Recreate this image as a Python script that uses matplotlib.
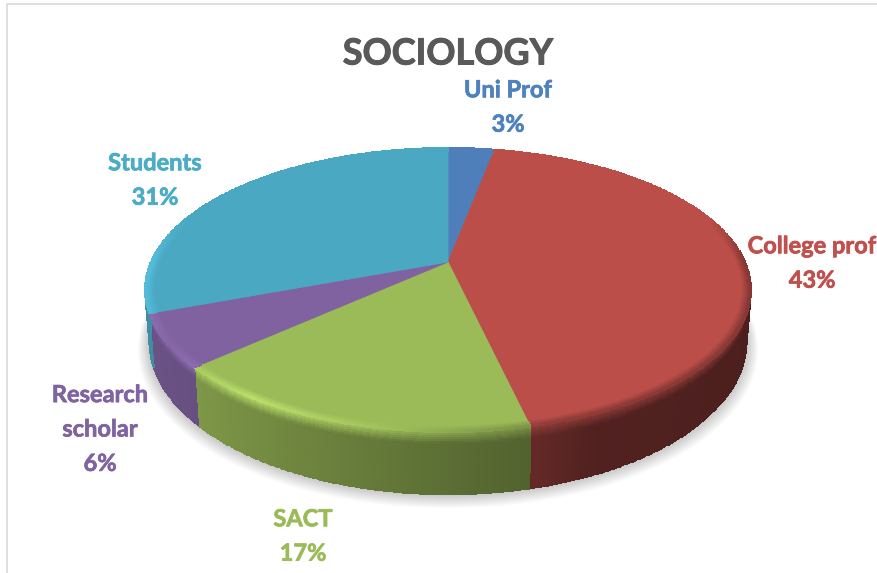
import numpy as np
import matplotlib
matplotlib.use("Agg")
import matplotlib.pyplot as plt
import matplotlib.patheffects as pe

plt.rcParams['font.family'] = ['Lato', 'DejaVu Sans']

categories = ["Uni Prof", "College prof", "SACT", "Research\nscholar", "Students"]
shares = [3.0, 43.4, 16.9, 6.0, 30.7]
colors = ["#4f7fba", "#bc4e4a", "#9bba58", "#8062a0", "#4ba8c3"]
label_colors = ["#4f81bd", "#c0504d", "#9bbb59", "#8064a2", "#4bacc6"]
label_pos = [(508, 107), (812, 263), (303, 536), (100, 429), (155, 180)]

CX, CY = 448, 262
A, B, K = 297.0, 136.5, 0.197
DEPTH = 50.0


def project(theta, r=1.0):
    # pie seen in perspective, theta is clockwise from the top
    u = r * np.sin(theta)
    v = r * np.cos(theta)
    w = 1 + K * v
    return CX + A * u / w, CY - B * v / w


def wall_point(theta, t):
    x, y = project(theta)
    w = 1 + K * np.cos(theta)
    return CX + (x - CX) * (1 - 0.015 * t), y + t * DEPTH / w


def wall_shade(u):
    return np.interp(u, [-1, -0.7, -0.3, 0.25, 0.4, 1], [0.85, 0.8, 0.68, 0.52, 0.43, 0.4])


def rim_shade(u):
    return np.interp(u, [-1, -0.85, -0.55, -0.2, 0.1, 0.3, 1], [1.13, 1.05, 1.2, 1.05, 0.85, 0.75, 0.7])


fig = plt.figure(figsize=(8.77, 5.73), dpi=100)
ax = fig.add_axes([0, 0, 1, 1])
ax.set_xlim(0, 877)
ax.set_ylim(573, 0)
ax.axis("off")

# chart frame, only left and top are in the crop
ax.plot([7, 7, 877], [573, 4, 4], color="#d9d9d9", lw=1.2)

edges = np.cumsum([0] + shares) / sum(shares) * 2 * np.pi

# soft shadow
ring = np.linspace(0, 2 * np.pi, 300)
bx, by = wall_point(ring, 1.0)
for i in range(14, 0, -1):
    sx = CX + (bx - CX) * (1 + 0.0028 * i)
    sy = 300 + (by - 300) * (1 + 0.0028 * i) + 0.45 * i
    ax.fill(sx, sy, color="black", alpha=0.016, lw=0)

band = np.linspace(0.972, 1.0, 10)
depths = np.linspace(0, 1, 31)

for start, end, col in zip(edges[:-1], edges[1:], colors):
    base = np.array(matplotlib.colors.to_rgb(col))
    thetas = np.linspace(start, end, max(int((end - start) * 150), 8))

    # flat top of the slice
    rx, ry = project(thetas)
    ax.fill(np.r_[CX, rx], np.r_[CY, ry], color=col, lw=0.6, zorder=3)

    mid = (thetas[:-1] + thetas[1:]) / 2
    u, v = np.sin(mid), np.cos(mid)
    front = np.clip((0.35 - v) / 0.35, 0, 1)
    rim = base[None, :] * (1 + (rim_shade(u) - 1) * front)[:, None]
    wall = base[None, :] * wall_shade(u)[:, None]

    # rounded edge on the top face
    X = np.array([project(thetas, r)[0] for r in band])
    Y = np.array([project(thetas, r)[1] for r in band])
    C = np.zeros((len(band) - 1, len(mid), 3))
    for j in range(C.shape[0]):
        f = (j + 0.5) / (len(band) - 1)
        C[j] = base * (1 - f) + rim * f
    ax.pcolormesh(X, Y, np.clip(C, 0, 1), shading="flat", edgecolors="face", lw=0.3, zorder=4)

    # side wall, sits under the top face
    X = np.array([wall_point(thetas, t)[0] for t in depths])
    Y = np.array([wall_point(thetas, t)[1] for t in depths])
    C = np.zeros((len(depths) - 1, len(mid), 3))
    for j in range(C.shape[0]):
        f = min((j + 0.5) / (len(depths) - 1) / 0.2, 1)
        C[j] = rim * (1 - f) + wall * f
    ax.pcolormesh(X, Y, np.clip(C, 0, 1), shading="flat", edgecolors="face", lw=0.3, zorder=2)

title = ax.text(448, 54, "SOCIOLOGY", ha="center", va="center", fontsize=26, fontweight="bold", color="#595959")
title.set_path_effects([pe.withStroke(linewidth=0.7, foreground="#595959")])

for name, share, pos, col in zip(categories, shares, label_pos, label_colors):
    t = ax.text(pos[0], pos[1], f"{name}\n{share:.0f}%", ha="center", va="center", fontsize=17,
                fontweight="bold", color=col, linespacing=1.6, clip_on=True)
    t.set_path_effects([pe.withStroke(linewidth=0.5, foreground=col)])

fig.savefig("out.png", dpi=100)
